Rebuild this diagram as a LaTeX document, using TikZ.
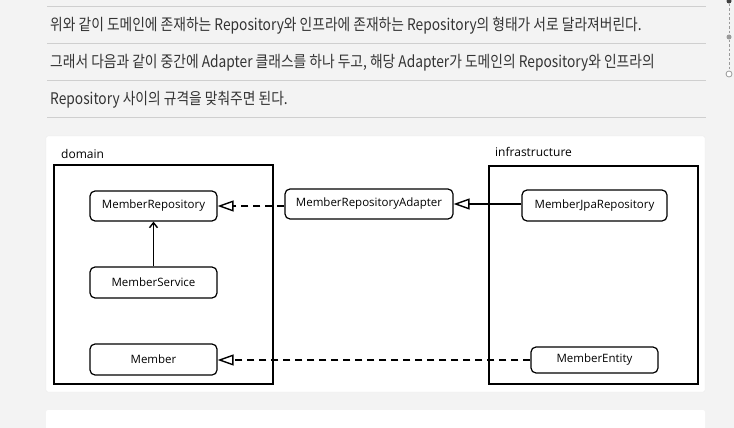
\documentclass[tikz,border=0pt]{standalone}
\usepackage{fontspec}
\usetikzlibrary{arrows.meta}
\setmainfont{Open Sans}
\newfontfamily\kr[FakeStretch=0.86]{Noto Sans CJK KR}
\definecolor{bg}{HTML}{F3F3F3}
\definecolor{rule}{HTML}{CFCFCF}
\definecolor{txt}{HTML}{333333}
\definecolor{tl}{HTML}{9A9A9A}
\tikzset{
  para/.style={anchor=base west, inner sep=0pt, text=txt, font=\kr\fontsize{16}{18}\selectfont},
  sep/.style={draw=rule, line width=0.8pt},
  pkg/.style={draw=black, line width=1.4pt},
  pkglabel/.style={anchor=base west, inner sep=0pt, font=\fontsize{12}{14}\selectfont},
  cls/.style={draw=black, line width=1.2pt, rounded corners=5pt, inner sep=0pt, font=\fontsize{11.5}{13}\selectfont},
  realize/.style={line width=1.7pt, dash pattern=on 7pt off 5pt, -{Triangle[open,length=16pt,width=11pt,line width=1.4pt]}},
  inherit/.style={line width=1.4pt, -{Triangle[open,length=16pt,width=11pt,line width=1.4pt]}},
  assoc/.style={line width=1.4pt, -{Straight Barb[length=5pt,width=8pt,line width=1.4pt]}},
}
\begin{document}
\begin{tikzpicture}[x=1pt,y=-1pt]
\useasboundingbox (0,0) rectangle (734,428);
\fill[bg] (0,0) rectangle (734,428);
% separators
\foreach \yy in {6,43,80,117} \draw[sep] (47,\yy) -- (706,\yy);
% paragraph text
\node[para] (p1) at (50,30.5) {위와 같이 도메인에 존재하는 Repository와 인프라에 존재하는 Repository의 형태가 서로 달라져버린다.};
\node[para] (p2) at (50,67.5) {그래서 다음과 같이 중간에 Adapter 클래스를 하나 두고, 해당 Adapter가 도메인의 Repository와 인프라의};
\node[para] (p3) at (50,104.5) {Repository 사이의 규격을 맞춰주면 된다.};
% timeline at right
\node[circle, fill=black!75, minimum size=5pt, inner sep=0pt] (d1) at (729,1) {};
\node[circle, fill=tl, minimum size=5pt, inner sep=0pt] (d2) at (729,37) {};
\node[circle, draw=tl, fill=white, line width=0.8pt, minimum size=6pt, inner sep=0pt] (d3) at (729,74) {};
\draw[tl, line width=0.8pt, dash pattern=on 2.5pt off 2pt] (d1) -- (d2);
\draw[tl, line width=0.8pt, dash pattern=on 2.5pt off 2pt] (d2) -- (d3);
% diagram panel
\fill[white, draw=black!8, rounded corners=2pt] (46,136) rectangle (705,392);
% code block below
\fill[white, rounded corners=2pt] (46,410) rectangle (705,440);
% packages
\draw[pkg] (54,165) rectangle (273,384);
\draw[pkg] (489,166) rectangle (698,384);
\node[pkglabel] (ldom) at (61,158) {domain};
\node[pkglabel] (linf) at (495,156) {infrastructure};
% classes
\node[cls, minimum width=127pt, minimum height=30pt] (repo) at (153.5,206) {MemberRepository};
\node[cls, minimum width=127pt, minimum height=31pt] (svc) at (153.5,282.5) {MemberService};
\node[cls, minimum width=127pt, minimum height=31pt] (mem) at (153.5,359.5) {Member};
\node[cls, minimum width=168pt, minimum height=30pt] (adp) at (369,204) {MemberRepositoryAdapter};
\node[cls, minimum width=145pt, minimum height=31pt] (jpa) at (594.5,205.5) {MemberJpaRepository};
\node[cls, minimum width=127pt, minimum height=26pt] (ent) at (594.5,360) {MemberEntity};
% connectors
\draw[assoc] (svc.north) -- (repo.south);
\draw[realize] (adp.west |- repo.east) -- (repo.east);
\draw[inherit] (jpa.west |- adp.east) -- (adp.east);
\draw[realize] (ent.west) -- (ent.west -| mem.east);
\end{tikzpicture}
\end{document}
